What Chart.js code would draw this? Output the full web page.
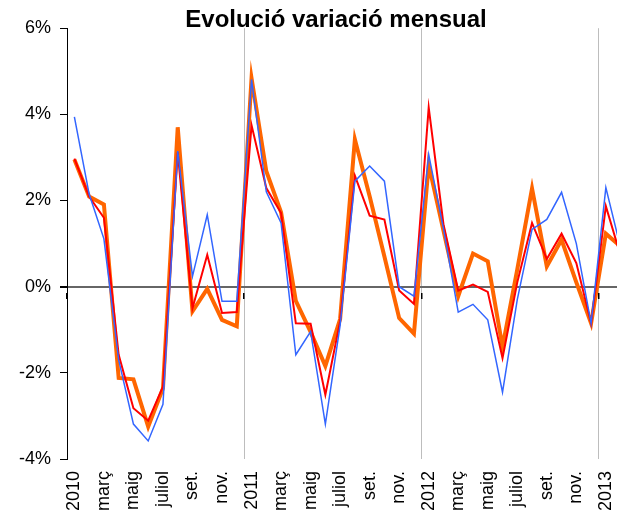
<!DOCTYPE html>
<html lang="ca">
<head>
<meta charset="utf-8">
<title>Evolució variació mensual</title>
<script src="https://cdn.jsdelivr.net/npm/chart.js@4.4.1/dist/chart.umd.min.js"></script>
<style>
    html, body { margin: 0; padding: 0; background: #fff; overflow: hidden; }
    #marc { width: 672px; height: 522px; }
</style>
</head>
<body>
<div id="marc"><canvas id="grafic" width="672" height="522"></canvas></div>
<script>
// Categories: un punt per mes, de gener 2010 a febrer 2013
const mesos = [
    '2010', 'febrer', 'març', 'abril', 'maig', 'juny', 'juliol', 'agost', 'set.', 'oct.', 'nov.', 'des.',
    '2011', 'febrer', 'març', 'abril', 'maig', 'juny', 'juliol', 'agost', 'set.', 'oct.', 'nov.', 'des.',
    '2012', 'febrer', 'març', 'abril', 'maig', 'juny', 'juliol', 'agost', 'set.', 'oct.', 'nov.', 'des.',
    '2013', 'febrer'
];

// Valors (%) llegits del gràfic
const serieBlava = [
    3.94, 2.15, 1.11, -1.70, -3.19, -3.58, -2.73, 3.15, 0.24, 1.67, -0.34, -0.34,
    4.81, 2.20, 1.48, -1.58, -1.04, -3.19, -0.90, 2.45, 2.80, 2.45, 0.00, -0.22,
    3.07, 1.35, -0.59, -0.41, -0.77, -2.45, -0.30, 1.33, 1.56, 2.19, 1.00, -0.85,
    2.30, 0.90
];
const serieVermella = [
    2.97, 2.09, 1.60, -1.58, -2.82, -3.11, -2.32, 3.12, -0.50, 0.74, -0.61, -0.59,
    3.75, 2.29, 1.71, -0.85, -0.86, -2.51, -0.80, 2.58, 1.65, 1.56, -0.09, -0.40,
    4.16, 1.45, -0.09, 0.05, -0.12, -1.66, 0.10, 1.48, 0.64, 1.23, 0.55, -0.85,
    1.87, 0.72
];
const serieTaronja = [
    2.95, 2.09, 1.91, -2.12, -2.15, -3.25, -2.36, 3.70, -0.57, -0.05, -0.77, -0.92,
    4.84, 2.68, 1.73, -0.33, -1.05, -1.84, -0.75, 3.42, 2.10, 0.70, -0.73, -1.09,
    2.83, 1.30, -0.22, 0.77, 0.59, -1.40, 0.40, 2.28, 0.47, 1.09, 0.10, -0.85,
    1.23, 0.93
];

// Eix Y: de -4% a 6% cada 2 punts
const minimY = -4;
const maximY = 6;
const pasY = 2;

const lletra = "'Liberation Sans', Arial, sans-serif";

const ctx = document.getElementById('grafic').getContext('2d');
const grafic = new Chart(ctx, {
    type: 'line',
    data: {
        labels: mesos,
        datasets: [
            { label: 'Sèrie blava', data: serieBlava, borderColor: '#3366ff', borderWidth: 1.5 },
            { label: 'Sèrie vermella', data: serieVermella, borderColor: '#ff0000', borderWidth: 2 },
            { label: 'Sèrie taronja', data: serieTaronja, borderColor: '#ff6600', borderWidth: 4 }
        ]
    },
    options: {
        responsive: false,
        animation: false,
        devicePixelRatio: 1,
        elements: {
            point: { radius: 0, hoverRadius: 0 },
            line: { tension: 0, fill: false, borderJoinStyle: 'miter' }
        },
        layout: {
            padding: 0
        },
        plugins: {
            legend: { display: false },
            tooltip: { enabled: false },
            title: {
                display: true,
                text: 'Evolució variació mensual',
                color: '#000',
                font: { family: lletra, size: 24, weight: 'bold', lineHeight: 0.8 },
                padding: { top: 11, bottom: -2 }
            }
        },
        scales: {
            x: {
                type: 'category',
                offset: true,
                grid: {
                    offset: true,
                    drawTicks: false,
                    color: function(c) { return c.index % 12 === 0 ? '#bdbdbd' : 'rgba(0,0,0,0)'; }
                },
                border: { display: false },
                ticks: {
                    autoSkip: false,
                    minRotation: 90,
                    maxRotation: 90,
                    padding: 12,
                    color: '#000',
                    font: { family: lletra, size: 18 },
                    // Només un mes de cada dos porta etiqueta
                    callback: function(valor, i) { return i % 2 === 0 ? this.getLabelForValue(valor) : ''; }
                },
                afterFit: function(eix) { eix.height = 63; }
            },
            // Eix de categories just sota el 0% per a les marques dels anys
            x2: {
                type: 'category',
                labels: mesos,
                position: { y: -0.14 },
                offset: true,
                grid: {
                    offset: true,
                    drawOnChartArea: false,
                    drawTicks: true,
                    tickLength: 6,
                    lineWidth: 1.5,
                    color: function(c) { return c.index % 12 === 0 ? '#000' : 'rgba(0,0,0,0)'; }
                },
                border: { display: false },
                ticks: { display: false, autoSkip: false }
            },
            y: {
                min: minimY,
                max: maximY,
                ticks: {
                    stepSize: pasY,
                    padding: 9,
                    color: '#000',
                    font: { family: lletra, size: 18 },
                    callback: function(valor) { return valor + '%'; }
                },
                grid: {
                    color: function(c) { return c.tick && c.tick.value === 0 ? '#666' : 'rgba(0,0,0,0)'; },
                    lineWidth: function(c) { return c.tick && c.tick.value === 0 ? 2 : 1; },
                    tickColor: '#000',
                    tickLength: 7
                },
                border: { color: '#000', width: 1 },
                afterFit: function(eix) { eix.width = 67; }
            },
            // Eix buit a la dreta perquè l'àrea del gràfic surti del marc
            y2: {
                position: 'right',
                display: true,
                ticks: { display: false },
                grid: { display: false },
                border: { display: false },
                afterFit: function(eix) { eix.width = 44; }
            }
        }
    }
});
</script>
</body>
</html>
